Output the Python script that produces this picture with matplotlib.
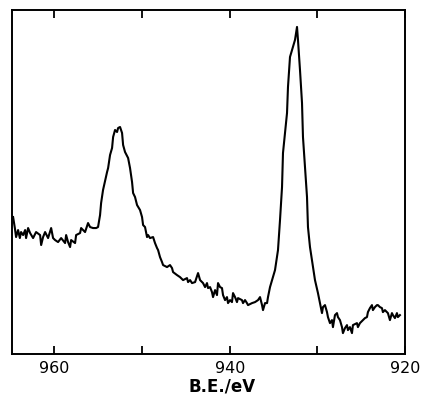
import numpy as np
import matplotlib
matplotlib.use('Agg')
from matplotlib import pyplot as plt

# XPS spectrum (binding energy in eV, intensity in arbitrary units).
be = [964.71, 964.51, 964.37, 964.14, 963.94, 963.80, 963.57, 963.34, 963.23, 963.00,
      962.77, 962.43, 962.09, 961.63, 961.51, 961.29, 961.06, 960.72, 960.37, 960.15,
      959.92, 959.58, 959.23, 958.78, 958.66, 958.44, 958.21, 958.09, 957.64, 957.52,
      957.07, 956.95, 956.50, 956.16, 955.93, 955.59, 955.24, 955.02, 954.79, 954.67,
      954.45, 953.99, 953.87, 953.65, 953.42, 953.30, 953.08, 952.85, 952.73, 952.51,
      952.28, 952.16, 951.94, 951.59, 951.37, 951.14, 951.02, 950.80, 950.57, 950.23,
      950.00, 949.88, 949.66, 949.43, 949.31, 949.09, 948.74, 948.52, 948.29, 948.17,
      947.95, 947.72, 947.60, 947.15, 946.81, 946.58, 946.46, 946.01, 945.67, 945.32,
      944.87, 944.75, 944.52, 944.30, 943.95, 943.61, 943.38, 943.04, 942.81, 942.59,
      942.47, 942.24, 942.02, 941.90, 941.67, 941.45, 941.33, 941.10, 940.88, 940.76,
      940.53, 940.31, 940.19, 939.96, 939.74, 939.62, 939.39, 939.17, 939.05, 938.60,
      938.48, 938.25, 938.03, 937.91, 937.45, 937.11, 936.77, 936.54, 936.31, 936.20,
      935.97, 935.74, 935.63, 935.40, 935.17, 934.83, 934.49, 934.26, 934.03, 933.92,
      933.46, 933.35, 933.12, 932.89, 932.55, 932.32, 932.21, 931.98, 931.75, 931.64,
      931.41, 931.18, 931.07, 930.84, 930.50, 930.27, 929.93, 929.70, 929.47, 929.36,
      929.13, 928.90, 928.79, 928.56, 928.33, 928.22, 927.99, 927.76, 927.65, 927.42,
      927.19, 927.08, 926.85, 926.62, 926.51, 926.28, 926.05, 925.94, 925.48, 925.37,
      925.14, 924.80, 924.57, 924.34, 924.23, 924.00, 923.77, 923.66, 923.43, 923.20,
      923.09, 922.86, 922.63, 922.52, 922.29, 922.06, 921.95, 921.72, 921.49, 921.38,
      921.15, 920.92, 920.81, 920.58]
counts = [137, 126, 117, 124, 116, 122, 119, 124, 116, 126,
          121, 116, 122, 119, 109, 117, 122, 116, 126, 116,
          114, 112, 116, 111, 119, 112, 107, 114, 111, 119,
          121, 126, 122, 131, 127, 126, 126, 127, 139, 151,
          164, 182, 186, 199, 206, 217, 224, 222, 226, 227,
          221, 209, 202, 196, 186, 172, 161, 157, 149, 144,
          137, 129, 127, 117, 119, 116, 117, 111, 106, 104,
          97, 92, 89, 87, 89, 86, 82, 79, 77, 74,
          76, 72, 74, 71, 72, 81, 74, 71, 67, 71,
          66, 67, 62, 57, 64, 59, 71, 67, 66, 59,
          54, 57, 51, 54, 52, 61, 57, 52, 56, 54,
          51, 54, 51, 49, 51, 52, 54, 57, 49, 44,
          51, 51, 57, 67, 74, 84, 104, 134, 167, 201,
          241, 267, 297, 304, 314, 327, 314, 284, 251, 217,
          187, 157, 127, 107, 87, 74, 61, 51, 41, 47,
          49, 42, 37, 31, 34, 27, 39, 41, 37, 34,
          27, 21, 26, 29, 24, 27, 21, 29, 31, 27,
          31, 34, 36, 37, 42, 46, 49, 44, 47, 49,
          49, 47, 46, 42, 44, 42, 41, 34, 41, 39,
          36, 41, 37, 39]

major_ticks = [960, 940, 920]
minor_ticks = [950, 930]

fig = plt.figure(figsize=(4.21, 3.97), dpi=100)
ax = fig.add_axes([0.028, 0.108, 0.934, 0.867])

ax.plot(be, counts, color='black', linewidth=1.5)

ax.set_xlim(964.86, 920)
ax.set_ylim(0, 344)
ax.set_yticks([])
ax.set_xticks(major_ticks)
ax.set_xticks(minor_ticks, minor=True)
ax.tick_params(axis='x', which='both', direction='in', top=True, length=6, width=1.3,
               labelsize=11.5, pad=5)
for s in ax.spines.values():
    s.set_linewidth(1.4)

ax.set_xlabel('B.E./eV', fontsize=12, fontweight='bold', va='baseline')
ax.xaxis.set_label_coords(0.535, -0.11)

fig.savefig('out.png', dpi=100)
